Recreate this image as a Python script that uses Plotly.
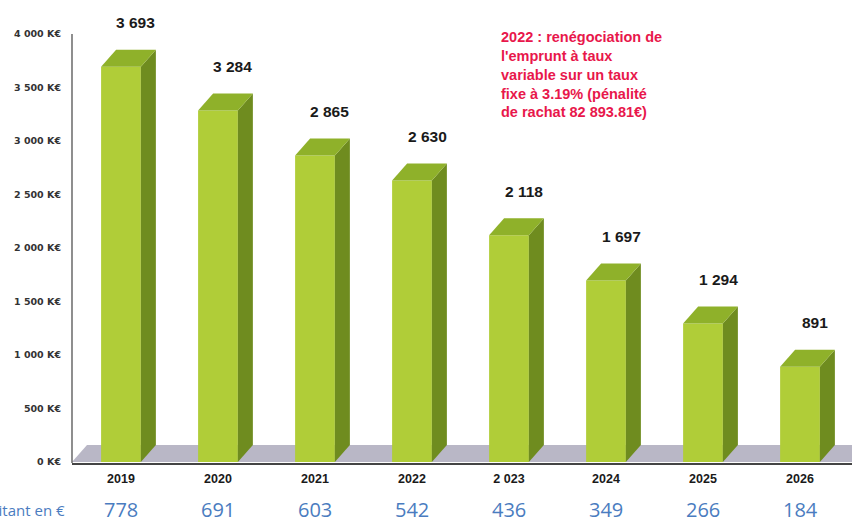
import plotly.graph_objects as go

years = ["2019", "2020", "2021", "2022", "2 023", "2024", "2025", "2026"]
debt_keur = [3693, 3284, 2865, 2630, 2118, 1697, 1294, 891]
debt_labels = ["3 693", "3 284", "2 865", "2 630", "2 118", "1 697", "1 294", "891"]
per_inhabitant = [778, 691, 603, 542, 436, 349, 266, 184]
y_ticks = [0, 500, 1000, 1500, 2000, 2500, 3000, 3500, 4000]
y_tick_labels = ["0 K€", "500 K€", "1 000 K€", "1 500 K€", "2 000 K€",
                 "2 500 K€", "3 000 K€", "3 500 K€", "4 000 K€"]
note = ("2022 : renégociation de<br>l'emprunt à taux<br>variable sur un taux<br>"
        "fixe à 3.19% (pénalité<br>de rachat 82 893.81€)")

W, H = 852, 523
ML, MR, MT, MB = 72, 0, 10, 60
X_RANGE = [-0.505, 7.536]
Y_RANGE = [-9.3, 4224]
PW = W - ML - MR
PH = H - MT - MB
px_x = PW / (X_RANGE[1] - X_RANGE[0])
px_y = PH / (Y_RANGE[1] - Y_RANGE[0])
DX = 15 / px_x          # depth offset in x data units
DY = 17 / px_y          # depth offset in y data units
BW = 0.41               # front-face width

FRONT = "#b0cd38"
SIDE = "#6f8c1f"
TOP = "#8fb12a"
FLOOR = "#b9b7c6"

xs = list(range(len(years)))
fig = go.Figure()

# front faces
fig.add_trace(go.Bar(x=xs, y=debt_keur, width=BW, marker=dict(color=FRONT, line=dict(width=0)),
                     hoverinfo="skip", showlegend=False))

# side and top faces computed from the values
for i, v in zip(xs, debt_keur):
    r = i + BW / 2
    l = i - BW / 2
    fig.add_trace(go.Scatter(x=[r, r + DX, r + DX, r, r], y=[0, DY, v + DY, v, 0],
                             fill="toself", fillcolor=SIDE, mode="lines",
                             line=dict(width=0, color=SIDE), hoverinfo="skip", showlegend=False))
    fig.add_trace(go.Scatter(x=[l, r, r + DX, l + DX, l], y=[v, v, v + DY, v + DY, v],
                             fill="toself", fillcolor=TOP, mode="lines",
                             line=dict(width=0, color=TOP), hoverinfo="skip", showlegend=False))

annotations = []
for i, v, t in zip(xs, debt_keur, debt_labels):
    annotations.append(dict(x=i + DX, y=v, xref="x", yref="y", text=t, showarrow=False,
                            yanchor="middle", yshift=44,
                            font=dict(family="Liberation Sans, Arial", size=15.5, color="#1a1a1a",
                                      weight="bold")))
for i, p in zip(xs, per_inhabitant):
    annotations.append(dict(x=i, y=-(509 - (H - MB)) / PH, xref="x", yref="paper", text=str(p),
                            showarrow=False, yanchor="middle",
                            font=dict(family="Open Sans", size=20, color="#4a7cc0")))
annotations.append(dict(x=(67 - ML) / PW, y=-(510 - (H - MB)) / PH, xref="paper",
                        yref="paper", text="Dette par habitant en €", showarrow=False,
                        xanchor="right", yanchor="middle",
                        font=dict(family="Open Sans", size=15, color="#4a7cc0")))
annotations.append(dict(x=(499 - ML) / PW, y=(H - MB - 27) / PH,
                        xref="paper", yref="paper", text=note, showarrow=False,
                        xanchor="left", yanchor="top", align="left",
                        font=dict(family="Liberation Sans, Arial", size=14.5, color="#e8174b",
                                  weight="bold")))

floor_path = (f"M {X_RANGE[0]},0 L {X_RANGE[1] + 1},0 L {X_RANGE[1] + 1},{DY} "
              f"L {X_RANGE[0] + DX},{DY} Z")
shapes = [
    dict(type="path", path=floor_path, xref="x", yref="y", fillcolor=FLOOR,
         line=dict(width=0), layer="below"),
    dict(type="line", xref="paper", yref="y", x0=0, x1=0, y0=Y_RANGE[0], y1=4000,
         line=dict(color="#444444", width=1.2)),
]

fig.update_layout(
    width=W, height=H, margin=dict(l=ML, r=MR, t=MT, b=MB),
    paper_bgcolor="white", plot_bgcolor="white", showlegend=False,
    annotations=annotations, shapes=shapes,
    xaxis=dict(range=X_RANGE, tickvals=xs, ticktext=years, showgrid=False, zeroline=False,
               showline=True, linecolor="#444444", linewidth=1.5, ticks="",
               ticklabelstandoff=3,
               tickfont=dict(family="Liberation Sans, Arial", size=12.5, color="#1a1a1a",
                             weight="bold")),
    yaxis=dict(range=Y_RANGE, tickvals=y_ticks, ticktext=y_tick_labels, showgrid=False,
               zeroline=False, showline=False, ticks="", ticklabelstandoff=10,
               tickfont=dict(family="DejaVu Sans", size=9.5, color="#333333",
                             weight="bold")),
)

fig.write_html("out.html")
